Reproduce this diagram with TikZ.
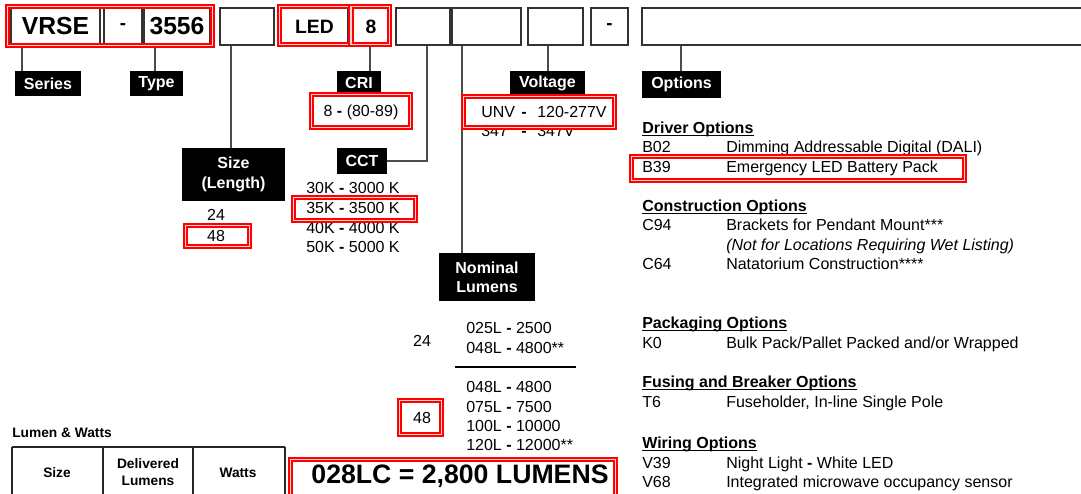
\documentclass[tikz,border=0pt]{standalone}
\usepackage{fontspec}
\setmainfont{Liberation Sans}
\begin{document}
\begin{tikzpicture}[x=0.75pt,y=-0.75pt,
  box/.style={draw=black!80, line width=0.8pt, minimum height=27.75pt, inner sep=0pt},
  redbox/.style={draw=red, line width=1.5pt, double=red!18, double distance=0.9pt},
  lab/.style={fill=black, text=white, font=\fontsize{12}{14.5}\selectfont\bfseries, inner sep=0pt, align=center},
  conn/.style={draw=black!70, line width=0.9pt},
  txt/.style={anchor=west, inner sep=0pt, font=\fontsize{12}{14}\selectfont, text height=8.6pt, text depth=0pt},
  ctxt/.style={txt, anchor=center},
  head/.style={txt, font=\fontsize{12}{14}\selectfont\bfseries},
  uline/.style={draw=black, line width=0.9pt},
  big/.style={font=\fontsize{18.5}{20}\selectfont\bfseries},
  mid/.style={font=\fontsize{14.5}{16}\selectfont\bfseries},
  dashtxt/.style={font=\fontsize{14}{16}\selectfont\bfseries},
  small/.style={font=\fontsize{10.3}{12.5}\selectfont\bfseries, inner sep=0pt, align=center},
]
\fill[white] (0,0) rectangle (1081,493);
\useasboundingbox (0,0) rectangle (1081,493);

% top code boxes
\node[box, big, minimum width=66.75pt] (b1) at (55.5,26.5) {VRSE};
\node[box, dashtxt, minimum width=28.5pt] (b2) at (123,26.5) {-};
\node[box, big, minimum width=49.5pt] (b3) at (177,26.5) {3556};
\node[box, minimum width=40.5pt] (b4) at (247,26.5) {};
\node[box, mid, minimum width=50.25pt] (b5) at (314.5,26.5) {LED};
\node[box, mid, minimum width=27pt] (b6) at (371,26.5) {8};
\node[box, minimum width=40.5pt] (b7) at (423,26.5) {};
\node[box, minimum width=51.75pt] (b8) at (486.5,26.5) {};
\node[box, minimum width=41.25pt] (b9) at (555.5,26.5) {};
\node[box, dashtxt, minimum width=27.75pt] (b10) at (609.5,26.5) {-};
\node[box, minimum width=336pt] (b11) at (866,26.5) {};

% labels
\node[lab, minimum width=49.5pt, minimum height=18.75pt] (ser) at (48,83.5) {Series};
\node[lab, minimum width=39.75pt, minimum height=18.75pt] (typ) at (156.5,83.5) {Type};
\node[lab, minimum width=33pt, minimum height=17.25pt] (cri) at (359,82.5) {CRI};
\node[lab, minimum width=56.25pt, minimum height=18.75pt] (vol) at (547.5,83.5) {Voltage};
\node[lab, minimum width=59.25pt, minimum height=20.25pt] (opt) at (681.5,84.5) {Options};
\node[lab, minimum width=77.25pt, minimum height=39.75pt] (siz) at (233.5,174.5) {Size\\(Length)};
\node[lab, minimum width=37.5pt, minimum height=19.5pt] (cct) at (362,161) {CCT};
\node[lab, minimum width=72pt, minimum height=36pt] (nom) at (487,277) {Nominal\\Lumens};

% connector x positions
\coordinate (sx) at (22,0);
\coordinate (tx) at (155,0);
\coordinate (zx) at (231,0);
\coordinate (cx) at (370,0);
\coordinate (kx) at (427,0);
\coordinate (nx) at (462,0);
\coordinate (vx) at (548,0);
\coordinate (ox) at (681,0);

\draw[conn] (b1.south -| sx) -- (ser.north -| sx);
\draw[conn] (b3.south -| tx) -- (typ.north -| tx);
\draw[conn] (b4.south -| zx) -- (siz.north -| zx);
\draw[conn] (b6.south -| cx) -- (cri.north -| cx);
\draw[conn] (b7.south -| kx) |- (cct.east);
\draw[conn] (b8.south -| nx) -- (nom.north -| nx);
\draw[conn] (b9.south -| vx) -- (vol.north -| vx);
\draw[conn] (b11.south -| ox) -- (opt.north -| ox);

% CRI / Voltage values
\node[ctxt] (cri8) at (361,111) {8 \textbf{-} (80-89)};
\node[txt] (unv) at (481,112) {UNV};
\node[ctxt] (unvd) at (524,112) {\textbf{-}};
\node[txt] (unvv) at (537,112) {120-277V};
\node[txt] (v347) at (481,131) {347};
\node[ctxt] (v347d) at (524,131) {\textbf{-}};
\node[txt] (v347v) at (537,131) {347V};

% Size values
\node[ctxt] (s24) at (216,215) {24};
\node[ctxt] (s48) at (216,236) {48};

% CCT values
\node[txt] (c30) at (306,188) {30K \textbf{-} 3000 K};
\node[txt] (c35) at (306,208) {35K \textbf{-} 3500 K};
\node[txt] (c40) at (306,228) {40K \textbf{-} 4000 K};
\node[txt] (c50) at (306,247) {50K \textbf{-} 5000 K};

% Lumens values
\node[ctxt] (l24) at (422,341) {24};
\node[txt] (l025) at (466,328) {025L \textbf{-} 2500};
\node[txt] (l048a) at (466,348) {048L \textbf{-} 4800**};
\coordinate (sepl) at (455,367);
\coordinate (sepr) at (576,367);
\draw[black, line width=1pt] (sepl) -- (sepr);
\node[txt] (l048b) at (466,387) {048L \textbf{-} 4800};
\node[txt] (l075) at (466,407) {075L \textbf{-} 7500};
\node[txt] (l100) at (466,426) {100L \textbf{-} 10000};
\node[txt] (l120) at (466,445) {120L \textbf{-} 12000**};
\node[ctxt] (l48) at (422,418) {48};

% Options
\node[head] (h1) at (642,128) {Driver Options};
\node[txt] (o1a) at (642,147) {B02};
\node[txt] (o1b) at (726,147) {Dimming Addressable Digital (DALI)};
\node[txt] (o2a) at (642,167) {B39};
\node[txt] (o2b) at (726,167) {Emergency LED Battery Pack};
\node[head] (h2) at (642,206) {Construction Options};
\node[txt] (o3a) at (642,225) {C94};
\node[txt] (o3b) at (726,225) {Brackets for Pendant Mount***};
\node[txt] (o3c) at (726,245) {\itshape (Not for Locations Requiring Wet Listing)};
\node[txt] (o4a) at (642,264) {C64};
\node[txt] (o4b) at (726,264) {Natatorium Construction****};
\node[head] (h3) at (642,323) {Packaging Options};
\node[txt] (o5a) at (642,343) {K0};
\node[txt] (o5b) at (726,343) {Bulk Pack/Pallet Packed and/or Wrapped};
\node[head] (h4) at (642,382) {Fusing and Breaker Options};
\node[txt] (o6a) at (642,402) {T6};
\node[txt] (o6b) at (726,402) {Fuseholder, In-line Single Pole};
\node[head] (h5) at (642,443) {Wiring Options};
\node[txt] (o7a) at (642,463) {V39};
\node[txt] (o7b) at (726,463) {Night Light \textbf{-} White LED};
\node[txt] (o8a) at (642,482) {V68};
\node[txt] (o8b) at (726,482) {Integrated microwave occupancy sensor};
\foreach \h in {h1,h2,h3,h4,h5}
  \draw[uline] ([yshift=-1.3pt]\h.south west) -- ([yshift=-1.3pt]\h.south east);

% Lumen & Watts table
\node[small, anchor=west] (lw) at (12,433) {Lumen \& Watts};
\draw[black!85, line width=1.3pt] (12,447) -- (285,447);
\draw[black!85, line width=1.1pt] (12,447) -- (12,500) (103,447) -- (103,500) (193,447) -- (193,500) (285,447) -- (285,500);
\node[small] (tsz) at (57,473) {Size};
\node[small] (tdl) at (148,472) {Delivered\\Lumens};
\node[small] (twt) at (238,473) {Watts};

\node[font=\fontsize{20}{22}\selectfont\bfseries, inner sep=0pt] (res) at (460,476) {028LC = 2,800 LUMENS};

% red highlights
\draw[redbox] (7.5,6.5) rectangle (212.5,45.5);
\draw[redbox] (279.5,6.5) rectangle (350.5,44.5);
\draw[redbox] (351,6.5) rectangle (389.5,44.5);
\draw[redbox] (311.5,94.5) rectangle (410.5,127.5);
\draw[redbox] (463.5,96.5) rectangle (614.5,127.5);
\draw[redbox] (631.5,156.5) rectangle (964.5,180.5);
\draw[redbox] (185.5,225.5) rectangle (249.5,246.5);
\draw[redbox] (293.5,197.5) rectangle (415.5,220.5);
\draw[redbox] (399.5,400.5) rectangle (441.5,434.5);
\draw[redbox] (290.5,459.5) rectangle (615.5,498);
\end{tikzpicture}
\end{document}
